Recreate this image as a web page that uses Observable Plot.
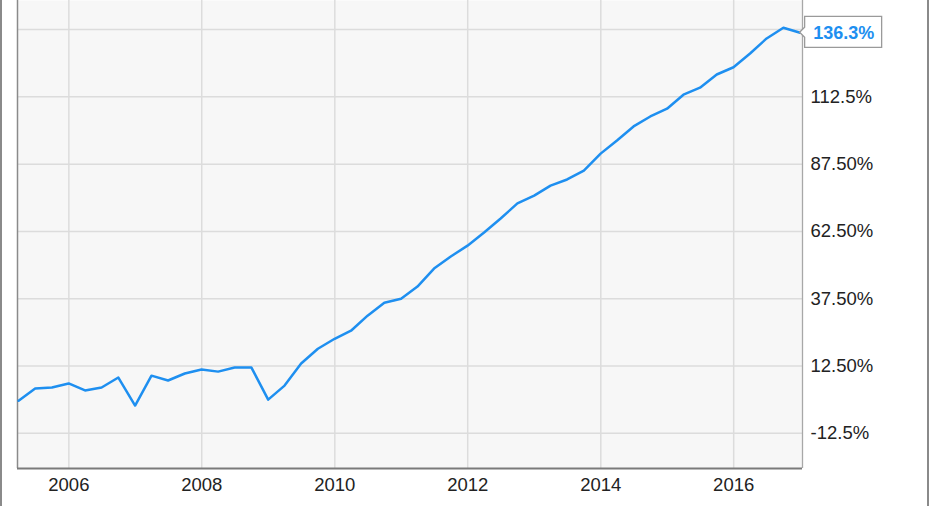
<!DOCTYPE html>
<html>
<head>
<meta charset="utf-8">
<script src="https://cdn.jsdelivr.net/npm/d3@7"></script>
<script src="https://cdn.jsdelivr.net/npm/@observablehq/plot@0.6"></script>
<style>
  html, body { margin: 0; padding: 0; background: #fff; }
  #wrap { position: relative; width: 931px; height: 506px; overflow: hidden; }
  #wrap .edgeL { position: absolute; left: 0; top: 0; width: 2px; height: 506px; background: #8a8a8a; }
  #wrap .edgeR { position: absolute; left: 927px; top: 0; width: 2px; height: 506px; background: #8a8a8a; }
  svg { display: block; }
</style>
</head>
<body>
<div id="wrap"><div class="edgeL"></div><div class="edgeR"></div></div>
<script>
// Quarter-end dates
const dates = [
  "2005-03-31","2005-06-30","2005-09-30","2005-12-31",
  "2006-03-31","2006-06-30","2006-09-30","2006-12-31",
  "2007-03-31","2007-06-30","2007-09-30","2007-12-31",
  "2008-03-31","2008-06-30","2008-09-30","2008-12-31",
  "2009-03-31","2009-06-30","2009-09-30","2009-12-31",
  "2010-03-31","2010-06-30","2010-09-30","2010-12-31",
  "2011-03-31","2011-06-30","2011-09-30","2011-12-31",
  "2012-03-31","2012-06-30","2012-09-30","2012-12-31",
  "2013-03-31","2013-06-30","2013-09-30","2013-12-31",
  "2014-03-31","2014-06-30","2014-09-30","2014-12-31",
  "2015-03-31","2015-06-30","2015-09-30","2015-12-31",
  "2016-03-31","2016-06-30","2016-09-30","2016-12-31"
];
// Total return, %
const values = [
  -0.4, 4.1, 4.5, 6.0,
  3.4, 4.5, 8.2, -2.2,
  8.9, 7.1, 9.7, 11.2,
  10.4, 11.9, 11.9, 0.0,
  5.2, 13.4, 18.9, 22.6,
  25.6, 31.2, 36.0, 37.5,
  42.0, 48.7, 53.2, 57.2,
  62.1, 67.3, 72.9, 75.8,
  79.5, 81.8, 85.1, 91.4,
  96.3, 101.5, 105.2, 108.1,
  113.3, 115.9, 120.8, 123.5,
  128.6, 134.2, 138.2, 136.3
];
const lastLabel = "136.3%";

const yGridTicks = [-12.5, 12.5, 37.5, 62.5, 87.5, 112.5, 137.5];
const yLabelTicks = [-12.5, 12.5, 37.5, 62.5, 87.5, 112.5];
const yTickLabels = ["-12.5%", "12.50%", "37.50%", "62.50%", "87.50%", "112.5%"];

const xTickDates = ["2006-01-01","2008-01-01","2010-01-01","2012-01-01","2014-01-01","2016-01-01"];
const xTickLabels = ["2006","2008","2010","2012","2014","2016"];

const xDomain = ["2005-03-25", "2017-01-13"];
const yDomain = [-25.6, 148.3];

const parse = d3.utcParse("%Y-%m-%d");
const data = dates.map((d, i) => ({date: parse(d), value: values[i]}));
const xTicks = xTickDates.map(parse);
const xLabelMap = new Map(xTicks.map((d, i) => [+d, xTickLabels[i]]));
const yLabelMap = new Map(yLabelTicks.map((d, i) => [d, yTickLabels[i]]));
const last = data[data.length - 1];

const blue = "#1e8ff0";

function callout(index, scales, values, dimensions) {
  const px = scales.x(last.date);
  const py = scales.y(last.value);
  const l = px + 5, r = px + 82, t = py - 16, b = py + 15;
  const p = d3.create("svg:path")
    .attr("d", `M${px},${py}L${l},${py - 5}L${l},${t}L${r},${t}L${r},${b}L${l},${b}L${l},${py + 5}Z`)
    .attr("fill", "#fff")
    .attr("stroke", "#9a9a9a")
    .attr("stroke-width", 1.3);
  return p.node();
}

const chart = Plot.plot({
  width: 931,
  height: 506,
  marginLeft: 17,
  marginRight: 129,
  marginTop: 0,
  marginBottom: 38,
  style: {fontFamily: "'Liberation Sans', Arial, sans-serif", background: "transparent", color: "#222", overflow: "visible"},
  x: {type: "utc", domain: xDomain.map(parse)},
  y: {domain: yDomain},
  marks: [
    Plot.frame({fill: "#f7f7f7", stroke: "none"}),
    Plot.gridY(yGridTicks, {stroke: "#dcdcdc", strokeOpacity: 1, strokeWidth: 1.5}),
    Plot.gridX(xTicks, {stroke: "#dcdcdc", strokeOpacity: 1, strokeWidth: 1.5}),
    Plot.ruleX([parse(xDomain[0])], {stroke: "#8a8a8a", strokeWidth: 1.5}),
    Plot.ruleX([parse(xDomain[1])], {stroke: "#a8a8a8", strokeWidth: 1.3}),
    Plot.ruleY([yDomain[0]], {stroke: "#7a7a7a", strokeWidth: 2}),
    Plot.line(data, {x: "date", y: "value", stroke: blue, strokeWidth: 2.5, strokeLinejoin: "round", clip: true}),
    Plot.axisY(yLabelTicks, {anchor: "right", tickSize: 0, tickPadding: 8, fontSize: 18.5, tickFormat: d => yLabelMap.get(d), label: null, fill: "#222"}),
    Plot.axisX(xTicks, {anchor: "bottom", tickSize: 0, tickPadding: 9, fontSize: 18.5, tickFormat: d => xLabelMap.get(+d), label: null, fill: "#222"}),
    callout,
    Plot.text([last], {x: "date", y: "value", text: () => lastLabel, dx: 13, textAnchor: "start", fontSize: 18, fontWeight: "bold", fill: blue})
  ]
});
document.getElementById("wrap").appendChild(chart);
</script>
</body>
</html>
